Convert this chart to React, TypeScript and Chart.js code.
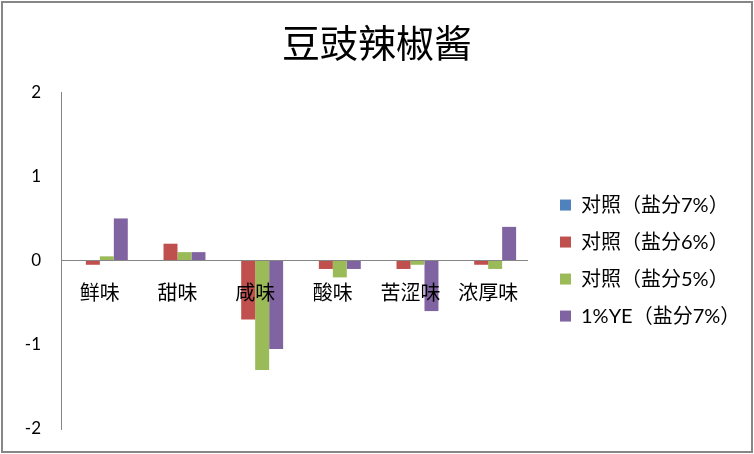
import { useEffect, useRef } from "react";
import { Chart, registerables } from "chart.js";

Chart.register(...registerables);

const chartTitle = "豆豉辣椒酱";
const categories = ["鲜味", "甜味", "咸味", "酸味", "苦涩味", "浓厚味"];
const seriesNames = ["对照（盐分7%）", "对照（盐分6%）", "对照（盐分5%）", "1%YE（盐分7%）"];
const control7 = [0, 0, 0, 0, 0, 0];
const control6 = [-0.05, 0.2, -0.7, -0.1, -0.1, -0.05];
const control5 = [0.05, 0.1, -1.3, -0.2, -0.05, -0.1];
const ye7 = [0.5, 0.1, -1.05, -0.1, -0.6, 0.4];
const yTicks = [-2, -1, 0, 1, 2];
const seriesColors = ["#4F81BD", "#C0504D", "#9BBB59", "#8064A2"];

const FAMILY = 'Lato, "Noto Sans CJK SC", sans-serif';
const CJK = '"Noto Sans CJK SC", Lato, sans-serif';

// centre the title on the whole canvas and put the legend a fixed gap to the right of the plot
const layoutTweaks = {
  id: "layoutTweaks",
  afterLayout(chart: any) {
    const t = chart.titleBlock;
    if (t) {
      t.left = 0;
      t.right = chart.width;
      t.width = chart.width;
    }
    const l = chart.legend;
    if (l) {
      const dx = chart.chartArea.right + 16 - l.left;
      l.left += dx;
      l.right = chart.width;
      l.width = l.right - l.left;
    }
  },
};

export default function App() {
  const ref = useRef<HTMLCanvasElement | null>(null);

  useEffect(() => {
    if (!ref.current) return;
    const values = [control7, control6, control5, ye7];
    const chart = new Chart(ref.current, {
      type: "bar",
      data: {
        labels: categories,
        datasets: values.map((v, i) => ({
          label: seriesNames[i],
          data: v,
          backgroundColor: seriesColors[i],
          borderWidth: 0,
          categoryPercentage: 0.72,
          barPercentage: 1,
        })),
      },
      options: {
        animation: false,
        responsive: false,
        devicePixelRatio: 1,
        layout: { padding: { left: 0, right: 47, top: 0, bottom: 25 } },
        plugins: {
          title: {
            display: true,
            text: chartTitle,
            color: "#000",
            font: { family: CJK, size: 38, weight: "normal" },
            padding: { top: 20, bottom: 26.5 },
          },
          legend: {
            position: "right",
            fullSize: false,
            maxWidth: 180,
            labels: {
              boxWidth: 11,
              boxHeight: 11,
              padding: 17,
              color: "#000",
              font: { family: FAMILY, size: 20 },
            },
          },
          tooltip: { enabled: false },
        },
        scales: {
          x: {
            position: { y: 0 } as any,
            grid: { display: false, drawTicks: false },
            border: { display: true, color: "#868686", width: 1, z: 1 },
            ticks: {
              z: 1,
              color: "#000",
              font: { family: CJK, size: 20 },
              padding: 20,
              maxRotation: 0,
              autoSkip: false,
            },
            afterFit: (s: any) => {
              s.height = 0;
            },
          },
          y: {
            min: -2,
            max: 2,
            grid: { display: false, drawTicks: false },
            border: { display: true, color: "#868686", width: 1 },
            ticks: {
              color: "#000",
              font: { family: FAMILY, size: 17 },
              padding: 20,
            },
            afterBuildTicks: (s: any) => {
              s.ticks = yTicks.map((v) => ({ value: v }));
            },
            afterFit: (s: any) => {
              s.width = 61;
              s.paddingTop = 10;
              s.paddingBottom = 10;
            },
          },
        },
      },
      plugins: [layoutTweaks],
    });
    return () => chart.destroy();
  }, []);

  return (
    <div style={{ position: "absolute", left: 0, top: 0, width: 754, height: 454, background: "#fff" }}>
      <canvas ref={ref} width={754} height={454} style={{ display: "block", width: 754, height: 454 }} />
      <div
        style={{
          position: "absolute",
          left: 1,
          top: 1,
          width: 752,
          height: 452,
          boxSizing: "border-box",
          border: "2px solid #868686",
          pointerEvents: "none",
        }}
      />
    </div>
  );
}
